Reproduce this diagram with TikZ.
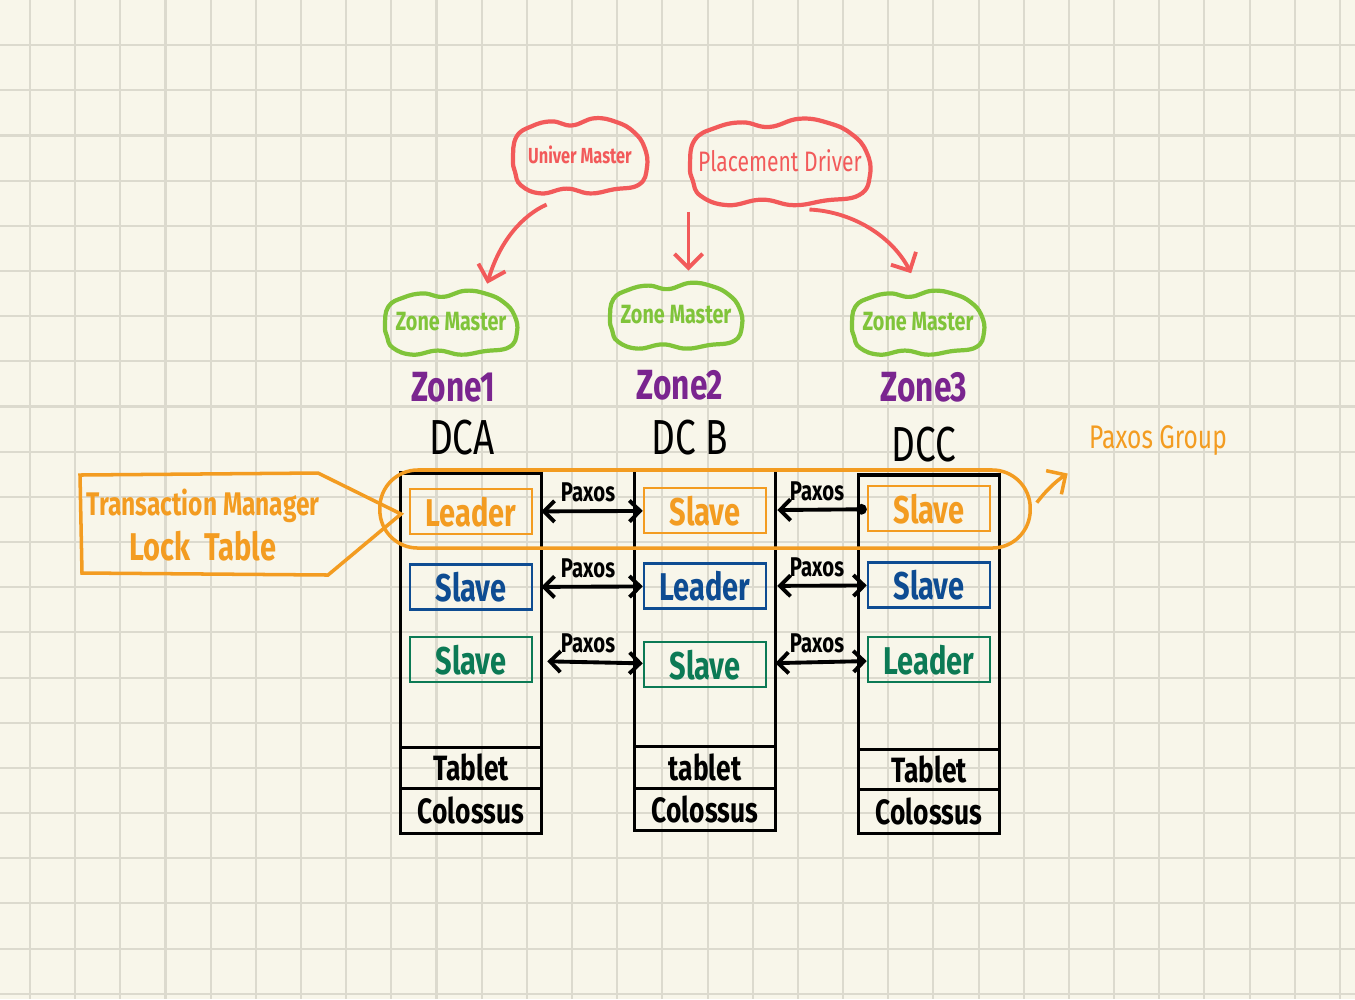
\documentclass[tikz,border=0pt]{standalone}
\usepackage{fontspec}
\setmainfont[FakeStretch=0.75]{Fira Sans}
\usepackage{xcolor}
\usepackage{tikz}
\usetikzlibrary {positioning}
\usetikzlibrary{arrows.meta}
\definecolor{paper}{HTML}{F8F6EA}
\definecolor{gridline}{HTML}{DCDACE}
\definecolor{penred}{HTML}{F25A5A}
\definecolor{pengreen}{HTML}{80C43A}
\definecolor{penpurple}{HTML}{7A258F}
\definecolor{penorange}{HTML}{F39C21}
\definecolor{penblue}{HTML}{0E4C92}
\definecolor{penteal}{HTML}{0C7A55}
\tikzset{paxos edge/.style = {<->,> = {Straight Barb[length=3pt,width=6pt]},line width=1.1pt}}
\tikzset{pen arrow/.style = {->,> = {Straight Barb[length=4pt,width=8pt]},line width=1.1pt}}
% wobbly outline round a node: [colour]{node}{half width}{half height}
\newcommand{\blobline}[4][]{%
  \draw[#1,line width=1.2pt,shift={(#2.center)},xscale=#3,yscale=#4]
    plot[smooth cycle,tension=0.75] coordinates {(-1,0.1) (-0.95,-0.45) (-0.72,-0.72) (-0.42,-0.84)
      (-0.12,-0.74) (0.22,-0.92) (0.55,-0.82) (0.8,-0.58) (0.96,-0.2) (1,0.3) (0.88,0.74)
      (0.5,0.86) (0.15,0.96) (-0.2,0.84) (-0.58,0.96) (-0.88,0.76) (-0.97,0.42)};}

\begin{document}
\begin{tikzpicture}[x=0.01cm,y=-0.01cm,thick,
    master/.style={rectangle,inner sep=0pt},
    dc/.style={rectangle,draw,line width=0.9pt,minimum width=1.41cm,inner sep=0pt,outer sep=0pt,font=\bfseries\fontsize{10}{12}\selectfont},
    cell/.style={rectangle,draw,line width=0.7pt,minimum width=1.22cm,minimum height=0.45cm,inner ysep=0.5pt,font=\bfseries\fontsize{11}{12}\selectfont},
    paxos/.style={above,font=\bfseries\fontsize{7.7}{8}\selectfont,inner sep=2pt},
    zone/.style={penpurple,font=\bfseries\fontsize{12}{13}\selectfont},
    dclabel/.style={font=\fontsize{14}{15}\selectfont}]
  % paper
  \useasboundingbox (0,0) rectangle (1355,999);
  \fill[paper] (0,0) rectangle (1355,999);
  \foreach \i in {0,...,29}
    \draw[gridline,line width=0.6pt] (30+45.17*\i,0) -- (30+45.17*\i,999);
  \foreach \j in {1,...,22}
    \draw[gridline,line width=0.6pt] (0,45.17*\j) -- (1355,45.17*\j);

  % masters
  \node[master,penred,minimum width=1.35cm,minimum height=0.8cm,font=\bfseries\fontsize{6.2}{7}\selectfont] (um) at (580,155) {Univer Master};
  \node[master,penred,minimum width=1.8cm,minimum height=0.93cm,font=\fontsize{8}{9}\selectfont] (pd) at (780,161) {Placement Driver};
  \node[master,pengreen,minimum width=1.32cm,minimum height=0.68cm,font=\bfseries\fontsize{7.5}{8}\selectfont] (zm1) at (451,322) {Zone Master};
  \node[master,pengreen,minimum width=1.32cm,minimum height=0.7cm,font=\bfseries\fontsize{7.5}{8}\selectfont] (zm2) at (676,315) {Zone Master};
  \node[master,pengreen,minimum width=1.32cm,minimum height=0.68cm,font=\bfseries\fontsize{7.5}{8}\selectfont] (zm3) at (918,322) {Zone Master};
  \blobline[penred]{um}{67}{40}
  \blobline[penred]{pd}{90}{46}
  \blobline[pengreen]{zm1}{66}{34}
  \blobline[pengreen]{zm2}{66}{35}
  \blobline[pengreen]{zm3}{66}{34}

  \path[pen arrow,penred] (um.250) edge[bend right=25,shorten <=0.2cm,shorten >=0.03cm] (zm1.45);
  \path[pen arrow,penred] (pd.south west) edge[shorten <=0.03cm,shorten >=0.08cm] (pd.south west |- zm2.north);
  \path[pen arrow,penred] (pd.290) edge[bend left=30,shorten <=0.12cm,shorten >=0.15cm] (zm3.north);

  % zones
  \node[zone] (z1) at (453,387) {Zone1};
  \node[zone] (z2) at (680,385) {Zone2};
  \node[zone] (z3) at (924,387) {Zone3};
  \node[dclabel] (dcal) at (462,438) {DCA};
  \node[dclabel] (dcbl) at (690,438) {DC B};
  \node[dclabel] (dccl) at (924,445) {DCC};

  % data centers
  \node[dc,minimum height=2.74cm] (dca) at (471,610) {};
  \node[dc,minimum height=0.41cm,below=0pt of dca] (tab1) {Tablet};
  \node[dc,minimum height=0.45cm,below=0pt of tab1] (col1) {Colossus};
  \node[dc,minimum height=2.76cm] (dcb) at (705,608) {};
  \node[dc,minimum height=0.42cm,below=0pt of dcb] (tab2) {tablet};
  \node[dc,minimum height=0.42cm,below=0pt of tab2] (col2) {Colossus};
  \node[dc,minimum height=2.74cm] (dcc) at (929,612) {};
  \node[dc,minimum height=0.40cm,below=0pt of dcc] (tab3) {Tablet};
  \node[dc,minimum height=0.44cm,below=0pt of tab3] (col3) {Colossus};

  \node[cell,penorange,below=0.15cm of dca.north] (a1) {Leader};
  \node[cell,penblue,below=0.28cm of a1] (a2) {Slave};
  \node[cell,penteal,below=0.25cm of a2] (a3) {Slave};
  \node[cell,penorange,below=0.17cm of dcb.north] (b1) {Slave};
  \node[cell,penblue,below=0.28cm of b1] (b2) {Leader};
  \node[cell,penteal,below=0.31cm of b2] (b3) {Slave};
  \node[cell,penorange,below=0.1cm of dcc.north] (c1) {Slave};
  \node[cell,penblue,below=0.29cm of c1] (c2) {Slave};
  \node[cell,penteal,below=0.27cm of c2] (c3) {Leader};

  \path[paxos edge] (a1) edge[shorten <=0.08cm] node[paxos] {Paxos} (b1);
  \path[paxos edge,{Circle[length=3pt]}->] (c1) edge[shorten >=0.1cm] node[paxos] {Paxos} (b1);
  \path[paxos edge] (a2) edge[shorten <=0.08cm] node[paxos] {Paxos} (b2);
  \path[paxos edge] (b2) edge[shorten <=0.1cm] node[paxos] {Paxos} (c2);
  \path[paxos edge] (a3) edge[shorten <=0.14cm] node[paxos] {Paxos} (b3);
  \path[paxos edge] (b3) edge[shorten <=0.08cm] node[paxos] {Paxos} (c3);

  % paxos group
  \node[draw,penorange,line width=1pt,rounded corners=0.38cm,minimum width=6.5cm,minimum height=0.78cm] (pg) at (705,509) {};
  \node[penorange,font=\fontsize{9.3}{10}\selectfont] (pglab) at (1158,440) {Paxos Group};
  \path[pen arrow,penorange,line width=1pt] (pg.east) edge[bend left=10,shorten <=0.08cm,shorten >=0.1cm] (pglab.south west);

  % transaction manager
  \node[penorange,align=center,font=\bfseries\fontsize{9.3}{13}\selectfont] (tm) at (203,525) {Transaction Manager\\{\fontsize{11}{13}\selectfont Lock\ \ Table}};
  \draw[penorange,line width=1pt] (80,475) -- (318,473) -- (401,514) -- (328,575) -- (82,573) -- cycle;
\end{tikzpicture}
\end{document}
